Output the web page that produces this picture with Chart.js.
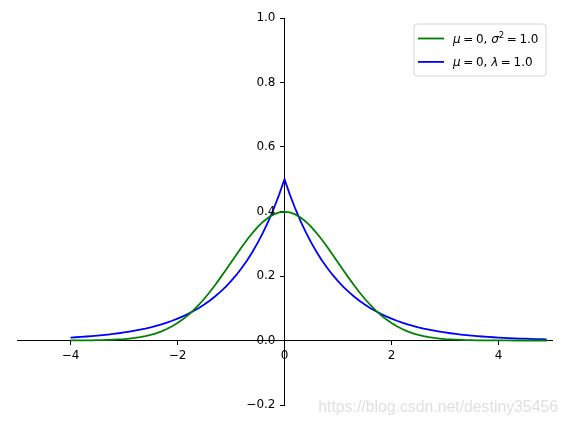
<!DOCTYPE html>
<html><head><meta charset="utf-8">
<script src="https://cdn.jsdelivr.net/npm/chart.js@4.4.0/dist/chart.umd.min.js"></script>
<style>html,body{margin:0;padding:0;background:#fff;}canvas{display:block;}</style>
</head><body>
<canvas id="c" width="568" height="426"></canvas>
<script>
const xValues = [-4.0,-3.9,-3.8,-3.7,-3.6,-3.5,-3.4,-3.3,-3.2,-3.1,-3.0,-2.9,-2.8,-2.7,-2.6,-2.5,-2.4,-2.3,-2.2,-2.1,-2.0,-1.9,-1.8,-1.7,-1.6,-1.5,-1.4,-1.3,-1.2,-1.1,-1.0,-0.9,-0.8,-0.7,-0.6,-0.5,-0.4,-0.3,-0.2,-0.1,0.0,0.1,0.2,0.3,0.4,0.5,0.6,0.7,0.8,0.9,1.0,1.1,1.2,1.3,1.4,1.5,1.6,1.7,1.8,1.9,2.0,2.1,2.2,2.3,2.4,2.5,2.6,2.7,2.8,2.9,3.0,3.1,3.2,3.3,3.4,3.5,3.6,3.7,3.8,3.9,4.0,4.1,4.2,4.3,4.4,4.5,4.6,4.7,4.8,4.9];
const gaussValues = [0.0001,0.0002,0.0003,0.0004,0.0006,0.0009,0.0012,0.0017,0.0024,0.0033,0.0044,0.0060,0.0079,0.0104,0.0136,0.0175,0.0224,0.0283,0.0355,0.0440,0.0540,0.0656,0.0790,0.0940,0.1109,0.1295,0.1497,0.1714,0.1942,0.2179,0.2420,0.2661,0.2897,0.3123,0.3332,0.3521,0.3683,0.3814,0.3910,0.3970,0.3989,0.3970,0.3910,0.3814,0.3683,0.3521,0.3332,0.3123,0.2897,0.2661,0.2420,0.2179,0.1942,0.1714,0.1497,0.1295,0.1109,0.0940,0.0790,0.0656,0.0540,0.0440,0.0355,0.0283,0.0224,0.0175,0.0136,0.0104,0.0079,0.0060,0.0044,0.0033,0.0024,0.0017,0.0012,0.0009,0.0006,0.0004,0.0003,0.0002,0.0001,0.0001,0.0001,0,0,0,0,0,0,0];
const laplaceValues = [0.0092,0.0101,0.0112,0.0124,0.0137,0.0151,0.0167,0.0184,0.0204,0.0225,0.0249,0.0275,0.0304,0.0336,0.0371,0.0410,0.0454,0.0501,0.0554,0.0612,0.0677,0.0748,0.0826,0.0913,0.1009,0.1116,0.1233,0.1363,0.1506,0.1664,0.1839,0.2033,0.2247,0.2483,0.2744,0.3033,0.3352,0.3704,0.4094,0.4524,0.5000,0.4524,0.4094,0.3704,0.3352,0.3033,0.2744,0.2483,0.2247,0.2033,0.1839,0.1664,0.1506,0.1363,0.1233,0.1116,0.1009,0.0913,0.0826,0.0748,0.0677,0.0612,0.0554,0.0501,0.0454,0.0410,0.0371,0.0336,0.0304,0.0275,0.0249,0.0225,0.0204,0.0184,0.0167,0.0151,0.0137,0.0124,0.0112,0.0101,0.0092,0.0083,0.0075,0.0068,0.0061,0.0056,0.0050,0.0045,0.0041,0.0037];
const xTicks = [-4,-2,0,2,4];
const yTicks = [-0.2,0.0,0.2,0.4,0.6,0.8,1.0];
const seriesColors = ['#008000','#0000ff'];
const legendRuns = [
  [{t:'\u03bc',i:true},{g:2.6},{t:'='},{g:2.6},{t:'0,'},{g:3.8},{t:'\u03c3',i:true},{t:'2',sup:true},{g:2.6},{t:'='},{g:2.6},{t:'1.0'}],
  [{t:'\u03bc',i:true},{g:2.6},{t:'='},{g:2.6},{t:'0,'},{g:3.8},{t:'\u03bb',i:true},{g:2.6},{t:'='},{g:2.6},{t:'1.0'}]
];
const watermark = 'https://blog.csdn.net/destiny35456';

const FONT = 'DejaVu Sans';
const minus = v => (v < 0 ? '\u2212' : '');
const fmtY = v => minus(v) + Math.abs(v).toFixed(1);

const legendPlugin = {
  id: 'mplLegend',
  afterDatasetsDraw(chart) {
    const ctx = chart.ctx, ca = chart.chartArea;
    // y tick labels (left of the centred y axis)
    const ys = chart.scales.y, xs = chart.scales.x;
    const axisX = xs.getPixelForValue(0);
    ctx.save();
    ctx.font = '12px "' + FONT + '"';
    ctx.fillStyle = '#000';
    ctx.textAlign = 'right';
    ctx.textBaseline = 'middle';
    yTicks.forEach(v => ctx.fillText(fmtY(v), axisX - 9, ys.getPixelForValue(v)));
    ctx.restore();

    const w = 132, h = 52, r = 3;
    const x0 = ca.right - 6 - w, y0 = ca.top + 6;
    ctx.save();
    ctx.beginPath();
    ctx.moveTo(x0 + r, y0);
    ctx.arcTo(x0 + w, y0, x0 + w, y0 + h, r);
    ctx.arcTo(x0 + w, y0 + h, x0, y0 + h, r);
    ctx.arcTo(x0, y0 + h, x0, y0, r);
    ctx.arcTo(x0, y0, x0 + w, y0, r);
    ctx.closePath();
    ctx.fillStyle = 'rgba(255,255,255,0.8)';
    ctx.fill();
    ctx.strokeStyle = '#d5d5d5';
    ctx.lineWidth = 1;
    ctx.stroke();
    legendRuns.forEach((runs, k) => {
      const cy = y0 + 14.5 + k * 23.4;
      ctx.beginPath();
      ctx.moveTo(x0 + 4, cy);
      ctx.lineTo(x0 + 30, cy);
      ctx.strokeStyle = seriesColors[k];
      ctx.lineWidth = 1.8;
      ctx.stroke();
      let tx = x0 + 39;
      ctx.fillStyle = '#000';
      ctx.textBaseline = 'alphabetic';
      ctx.textAlign = 'left';
      const base = cy + 4.5;
      runs.forEach(run => {
        if (run.g) { tx += run.g; return; }
        if (run.sup) {
          ctx.font = '8.5px "' + FONT + '"';
          ctx.fillText(run.t, tx, base - 5);
        } else {
          ctx.font = (run.i ? 'oblique ' : '') + '12px "' + FONT + '"';
          ctx.fillText(run.t, tx, base);
        }
        tx += ctx.measureText(run.t).width;
      });
    });
    ctx.restore();
  },
  afterDraw(chart) {
    const ctx = chart.ctx;
    ctx.save();
    ctx.font = '15.8px "Liberation Sans"';
    ctx.fillStyle = '#e0e0e0';
    ctx.textAlign = 'right';
    ctx.textBaseline = 'middle';
    ctx.fillText(watermark, 558, 408);
    ctx.restore();
  }
};

const axisCommon = {
  type: 'linear',
  grid: { display: true, drawOnChartArea: false, drawTicks: true, tickLength: 4, color: '#000', tickWidth: 1 },
  border: { display: true, color: '#000', width: 1 },
};

new Chart(document.getElementById('c'), {
  type: 'line',
  data: {
    datasets: [
      { data: xValues.map((x, i) => ({x, y: gaussValues[i]})), borderColor: seriesColors[0], borderWidth: 1.8, pointRadius: 0, tension: 0, fill: false },
      { data: xValues.map((x, i) => ({x, y: laplaceValues[i]})), borderColor: seriesColors[1], borderWidth: 1.8, pointRadius: 0, tension: 0, fill: false }
    ]
  },
  options: {
    responsive: false,
    animation: false,
    events: [],
    layout: { padding: { left: 17, right: 16, top: 18, bottom: 21 } },
    plugins: { legend: { display: false }, tooltip: { enabled: false } },
    scales: {
      x: Object.assign({}, axisCommon, {
        min: -5, max: 5,
        position: { y: 0 },
        afterFit(s) { s.height = 0; },
        afterBuildTicks(s) { s.ticks = xTicks.map(v => ({ value: v })); },
        ticks: { color: '#000', font: { family: FONT, size: 12 }, padding: 4, maxRotation: 0, autoSkip: false,
          callback: v => minus(v) + Math.abs(v).toFixed(0) }
      }),
      y: Object.assign({}, axisCommon, {
        min: -0.2, max: 1.0,
        position: { x: 0 },
        afterFit(s) { s.width = 0; },
        afterBuildTicks(s) { s.ticks = yTicks.map(v => ({ value: v })); },
        ticks: { display: false, autoSkip: false, callback: fmtY }
      })
    }
  },
  plugins: [legendPlugin]
});
</script>
</body></html>
